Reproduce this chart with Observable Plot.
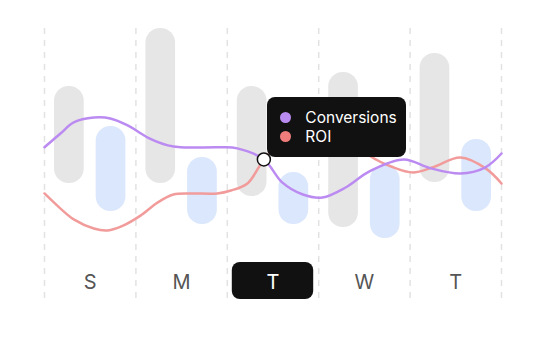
<!DOCTYPE html>
<html><head><meta charset="utf-8">
<script src="https://cdn.jsdelivr.net/npm/d3@7"></script>
<script src="https://cdn.jsdelivr.net/npm/@observablehq/plot@0.6"></script>
<style>
html,body{margin:0;padding:0;background:#fff;}
#chart{position:relative;width:539px;height:339px;font-family:Inter,"Open Sans",sans-serif;}
#chart svg{display:block;}
.tip{position:absolute;background:#111;border-radius:8px;color:#fff;font-size:15.5px;}
.tip .row{position:absolute;left:0;right:0;height:20px;}
.tip .dot{position:absolute;left:12.5px;top:4.5px;width:11px;height:11px;border-radius:50%;}
.tip .lab{position:absolute;left:38px;top:0;line-height:20px;white-space:nowrap;}
</style></head><body><div id="chart"></div>
<script>
// categories
const days = ["S","M","T","W","T"];
const selectedDay = 2;
// bar series (floating ranges)
const grayLow  = [42.6, 42.6, 37.8, 26.3, 43.0];
const grayHigh = [78.5, 100,  78.5, 83.7, 90.7];
const blueLow  = [32.2, 27.4, 27.4, 22.2, 32.2];
const blueHigh = [63.7, 52.2, 46.7, 49.3, 58.9];
// line series (x in day units)
const seriesNames = ["Conversions", "ROI"];
const convX = [0, 0.175, 0.32, 0.54, 0.72, 0.91, 1.13, 1.35, 1.49, 1.93, 2.11, 2.40, 2.60, 2.82, 3.04, 3.30, 3.55, 3.93, 4.22, 4.55, 4.82, 5.00];
const convY = [56.0, 61.1, 65.2, 67.0, 66.7, 64.1, 59.6, 56.7, 56.0, 56.0, 55.6, 51.5, 43.0, 38.6, 37.4, 41.2, 47.0, 51.5, 48.3, 46.3, 48.5, 53.7];
const roiX = [0, 0.175, 0.32, 0.54, 0.69, 0.86, 1.05, 1.24, 1.41, 1.60, 1.89, 2.04, 2.22, 2.40, 2.55, 2.75, 3.00, 3.29, 3.57, 3.80, 4.03, 4.25, 4.55, 4.83, 5.00];
const roiY = [38.9, 33.3, 29.3, 25.9, 25.2, 27.0, 30.7, 35.6, 38.5, 38.9, 38.9, 40.0, 42.6, 51.5, 57.0, 62.5, 64.5, 60.4, 52.6, 48.8, 46.7, 48.6, 52.2, 48.1, 42.6];
// hovered point
const hover = {x: 2.4, y: 51.5};

const colors = {conv: "#bb8bf2", roi: "#f29b9b", convDot: "#b98bf0", roiDot: "#f07c7c"};

const bars = days.map((d, i) => ({i, day: d, gl: grayLow[i], gh: grayHigh[i], bl: blueLow[i], bh: blueHigh[i]}));
const conv = convX.map((x, k) => ({x, y: convY[k]}));
const roi = roiX.map((x, k) => ({x, y: roiY[k]}));

const chart = Plot.plot({
  width: 539, height: 339,
  marginLeft: 44, marginRight: 38, marginTop: 28, marginBottom: 41,
  style: {fontFamily: "Inter, sans-serif", background: "#fff"},
  x: {domain: [0, 5], axis: null},
  y: {domain: [0, 100], axis: null},
  marks: [
    Plot.ruleX(d3.range(days.length + 1), {stroke: "#e2e2e2", strokeWidth: 1.5, strokeDasharray: "6,6"}),
    Plot.rect(bars, {x1: d => d.i, x2: d => d.i + 0.5, y1: "gl", y2: "gh", insetLeft: 10, insetRight: 6, rx: 14.5, ry: 14.5, fill: "#e6e6e6"}),
    Plot.rect(bars, {x1: d => d.i + 0.5, x2: d => d.i + 1, y1: "bl", y2: "bh", insetLeft: 6, insetRight: 10, rx: 14.5, ry: 14.5, fill: "#dbe7fc"}),
    Plot.line(roi, {x: "x", y: "y", stroke: colors.roi, strokeWidth: 2.5, curve: "catmull-rom"}),
    Plot.line(conv, {x: "x", y: "y", stroke: colors.conv, strokeWidth: 2.5, curve: "catmull-rom"}),
    Plot.rect(bars.filter(d => d.i === selectedDay), {x1: d => d.i, x2: d => d.i + 1, y1: d => 0, y2: d => 0, insetLeft: 5, insetRight: 5, insetTop: -36, insetBottom: -1, rx: 8, ry: 8, fill: "#111"}),
    Plot.text(bars, {x: d => d.i + 0.5, y: d => 0, text: "day", dy: -16, fontSize: 20, fill: d => d.i === selectedDay ? "#fff" : "#555"}),
    Plot.dot([hover], {x: "x", y: "y", r: 6.5, fill: "#fff", stroke: "#111", strokeWidth: 1.5})
  ]
});
const root = document.getElementById("chart");
root.appendChild(chart);

// tooltip anchored to the hovered point via the chart's scales
const px = chart.scale("x").apply(hover.x);
const py = chart.scale("y").apply(hover.y);
const tip = document.createElement("div");
tip.className = "tip";
tip.style.left = (px + 4) + "px";
tip.style.top = (py - 62) + "px";
tip.style.width = "139px";
tip.style.height = "60px";
[[seriesNames[0], colors.convDot, 11], [seriesNames[1], colors.roiDot, 30]].forEach(([name, c, top]) => {
  const row = document.createElement("div");
  row.className = "row";
  row.style.top = top + "px";
  row.innerHTML = `<span class="dot" style="background:${c}"></span><span class="lab">${name}</span>`;
  tip.appendChild(row);
});
root.appendChild(tip);
</script>
</body></html>
